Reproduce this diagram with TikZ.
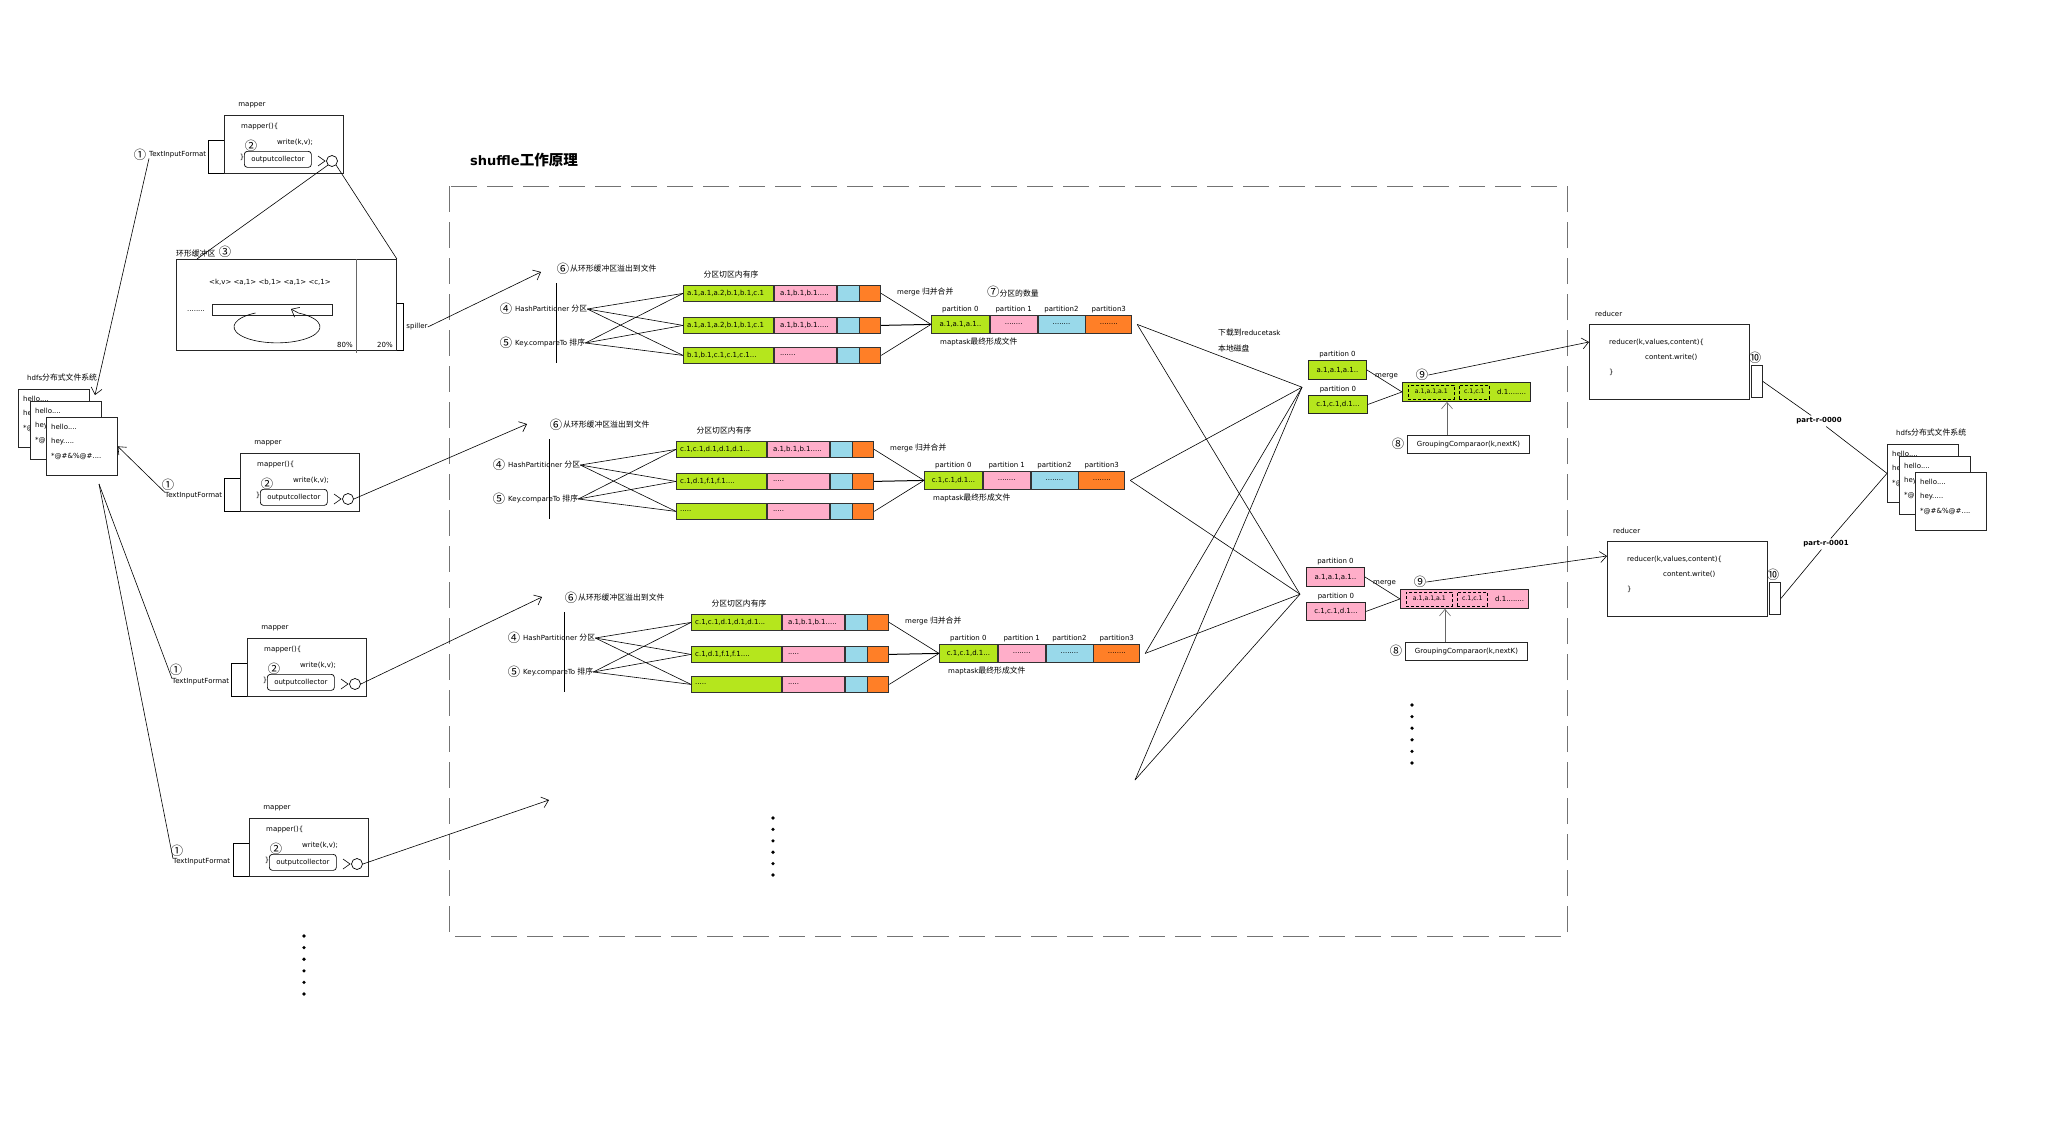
\documentclass[tikz,border=0pt]{standalone}
\usepackage{fontspec}
\setmainfont{DejaVu Sans}
\newfontfamily\cjk[Scale=1.12]{Noto Sans CJK SC}
\usetikzlibrary{
    arrows.meta, % For arrow tips
    calc,        % For coordinate calculations
    positioning  % For label positioning
}
\definecolor{sgreen}{RGB}{181,230,29}
\definecolor{spink}{RGB}{255,174,201}
\definecolor{sblue}{RGB}{153,217,234}
\definecolor{sorange}{RGB}{255,127,39}

\begin{document}
\begin{tikzpicture}[
    x=1pt, y=-1pt, % pixel grid, y runs downwards
    >={Straight Barb[length=6.5pt,width=11pt]}, % open arrow tips
    lbl/.style={font=\fontsize{7}{8}\selectfont, inner sep=0pt},
    num/.style={font=\cjk\fontsize{11}{12}\selectfont, inner sep=0pt},
    box/.style={draw=black!85, line width=0.9pt, inner sep=0pt, anchor=north west, font=\fontsize{7}{8}\selectfont},
    seg/.style={draw=black!80, line width=0.8pt, inner sep=0pt, anchor=north west, minimum height=16pt, font=\fontsize{7}{8}\selectfont},
    grp/.style={draw, dash pattern=on 3pt off 2pt, line width=0.7pt, inner sep=0pt, anchor=north west, minimum height=14pt, font=\fontsize{6.2}{7}\selectfont},
    wire/.style={line width=0.6pt}
    ]

    \fill[white] (0,0) rectangle (2048,1141);
    \useasboundingbox (0,0) rectangle (2048,1141);

    % #1=name, #2=top left corner of the mapper box
    \def\mapperblk#1#2{%
      \begin{scope}[shift={#2}]
        \node[lbl] at (28,-10) {mapper};
        \node[box, minimum width=119pt, minimum height=58pt] (#1) at (0,0) {};
        \node[lbl, anchor=west] at (17,12) {mapper()\{};
        \node[lbl, anchor=west] at (53,27) {write(k,v);};
        \node[num] at (27,31) {②};
        \node[lbl] at (18,42) {\}};
        \node[lbl, draw, line width=0.7pt, rounded corners=3pt, minimum width=67pt, minimum height=16pt, anchor=north west] (#1oc) at (20,36) {outputcollector};
        \draw[wire] (94,41) -- (101,46) -- (94,51);
        \node[draw, circle, line width=0.7pt, minimum size=11pt, inner sep=0pt] (#1c) at (108,46) {};
        \draw[wire] (0,25) -- (-16,25) -- (-16,58) -- (0,58);
      \end{scope}}

    % #1=name, #2=top left corner of the first file
    \def\hdfsstack#1#2{%
      \begin{scope}[shift={#2}]
        \node[lbl, anchor=west] at (9,-12) {hdfs{\cjk 分布式文件系统}};
        \foreach \dx/\dy [count=\k] in {0/0,12/12,28/28} {
          \node[box, fill=white, line width=0.7pt, minimum width=71pt, minimum height=58pt] (#1\k) at (\dx,\dy) {};
          \begin{scope}
            \clip (\dx,\dy) rectangle ++(71,58);
            \node[lbl, anchor=west] at (\dx+5,\dy+10) {hello....};
            \node[lbl, anchor=west] at (\dx+5,\dy+25) {hey.....};
            \node[lbl, anchor=west] at (\dx+5,\dy+40) {*@\#\&\%@\#....};
          \end{scope}
        }
      \end{scope}}

    % one spill file: #1=name, #2=y offset, #3/#4=texts
    \def\spillrow#1#2#3#4{%
      \node[seg, fill=sgreen, minimum width=90pt] (#1g) at (0,#2) {};
      \node[seg, fill=spink, minimum width=62pt] (#1p) at (#1g.north east) {};
      \node[seg, fill=sblue, minimum width=22pt] (#1b) at (#1p.north east) {};
      \node[seg, fill=sorange, minimum width=21pt] (#1o) at (#1b.north east) {};
      \node[lbl, anchor=west] at ([xshift=4pt]#1g.west) {#3};
      \node[lbl, anchor=west] at ([xshift=6pt]#1p.west) {#4};}

    % #1=name, #2=top left of first spill file, #3-#8 spill texts, #9 merged text
    \def\spillsec#1#2#3#4#5#6#7#8#9{%
      \begin{scope}[shift={#2}]
        \node[num] at (-120,-16) {⑥};
        \node[lbl, anchor=west] at (-113,-16) {\cjk 从环形缓冲区溢出到文件};
        \draw[wire] (-127,-2) -- (-127,78);
        \node[num] at (-177,24) {④};
        \node[lbl, anchor=west] (#1h) at (-168,24) {HashPartitioner {\cjk 分区}};
        \node[num] at (-177,58) {⑤};
        \node[lbl, anchor=west] (#1k) at (-168,58) {Key.compareTo {\cjk 排序}};
        \node[lbl] at (48,-10) {\cjk 分区切区内有序};
        % spill files
        \spillrow{#1r1}{0}{#3}{#4}
        \spillrow{#1r2}{32}{#5}{#6}
        \spillrow{#1r3}{62}{#7}{#8}
        \foreach \i in {1,2,3} {
          \draw[wire] (#1h.east) -- (#1r\i g.west);
          \draw[wire] (#1k.east) -- (#1r\i g.west);
        }
        % merged maptask file
        \node[seg, fill=sgreen, minimum width=58pt, minimum height=18pt] (#1mg) at (248,30) {#9};
        \node[seg, fill=spink, minimum width=47pt, minimum height=18pt] (#1mp) at (#1mg.north east) {........};
        \node[seg, fill=sblue, minimum width=47pt, minimum height=18pt] (#1mb) at (#1mp.north east) {........};
        \node[seg, fill=sorange, minimum width=46pt, minimum height=18pt] (#1mo) at (#1mb.north east) {........};
        \node[lbl, above=2pt of #1mg] {partition 0};
        \node[lbl, above=2pt of #1mp] {partition 1};
        \node[lbl, above=2pt of #1mb] {partition2};
        \node[lbl, above=2pt of #1mo] {partition3};
        \node[lbl, anchor=west] at (214,7) {merge {\cjk 归并合并}};
        \node[lbl, anchor=west] at (257,57) {maptask{\cjk 最终形成文件}};
        \draw[wire] (#1r1o.east) -- (#1mg.west);
        \draw[line width=1pt] (#1r2o.east) -- (#1mg.west);
        \draw[wire] (#1r3o.east) -- (#1mg.west);
      \end{scope}}

    % #1=name, #2=top left of first partition box, #3=colour
    \def\reducegrp#1#2#3{%
      \begin{scope}[shift={#2}]
        \node[box, fill=#3, minimum width=58pt, minimum height=19pt] (#1a) at (0,0) {a.1,a.1,a.1..};
        \node[lbl, above=2pt of #1a] {partition 0};
        \node[box, fill=#3, minimum width=59pt, minimum height=18pt] (#1b) at (0,35) {c.1,c.1,d.1...};
        \node[lbl, above=2pt of #1b] {partition 0};
        \node[lbl, anchor=west] at (67,16) {merge};
        \node[box, fill=#3, minimum width=128pt, minimum height=19pt] (#1m) at (94,22) {};
        \node[grp, minimum width=46pt] (#1m1) at (100,24.5) {a.1,a.1,a.1};
        \node[grp, minimum width=30pt] (#1m2) at (151,24.5) {c.1,c.1};
        \node[lbl, anchor=west] at (189,32) {d.1........};
        \node[num] (#1n) at (114,15) {⑨};
        \node[box, minimum width=122pt, minimum height=18pt] (#1g) at (99,75) {GroupingComparaor(k,nextK)};
        \node[num] at (90,84) {⑧};
        \draw[wire] (#1a.east) -- (#1m.west);
        \draw[wire] (#1b.east) -- (#1m.west);
        \draw[wire, black!60, ->] ($(#1g.north west)+(40,0)$) -- ($(#1m.south west)+(45,0)$);
      \end{scope}}

    % #1=name, #2=top left of the reducer box
    \def\reducerblk#1#2{%
      \begin{scope}[shift={#2}]
        \node[lbl, anchor=west] at (6,-10) {reducer};
        \node[box, minimum width=160pt, minimum height=75pt] (#1) at (0,0) {};
        \node[lbl, anchor=west] at (20,18) {reducer(k,values,content)\{};
        \node[lbl, anchor=west] at (56,33) {content.write()};
        \node[lbl, anchor=west] at (20,48) {\}};
        \node[box, minimum width=11pt, minimum height=32pt] (#1o) at (162,41) {};
        \node[num] at (166,34) {⑩};
      \end{scope}}

    % Title and shuffle frame
    \node[anchor=west, inner sep=0pt, font=\fontsize{13}{15}\selectfont\bfseries] at (470,160) {shuffle{\cjk 工作原理}};
    \draw[black!55, line width=1pt, dash pattern=on 26pt off 10pt] (449,186) rectangle (1567,936);

    % Input files
    \hdfsstack{hl}{(18,389)}
    \coordinate (hdfsLt) at (95,395);
    \coordinate (hdfsLb) at (99,484);

    % Mappers
    \mapperblk{m1}{(224,115)}
    \mapperblk{m2}{(240,453)}
    \mapperblk{m3}{(247,638)}
    \mapperblk{m4}{(249,818)}

    \node[num] at (140,155) {①};
    \node[lbl, anchor=west] (tif1) at (149,155) {TextInputFormat};
    \node[num] at (168,485) {①};
    \node[lbl, anchor=west] (tif2) at (165,496) {TextInputFormat};
    \node[num] at (176,670) {①};
    \node[lbl, anchor=west] (tif3) at (172,682) {TextInputFormat};
    \node[num] at (177,851) {①};
    \node[lbl, anchor=west] (tif4) at (173,862) {TextInputFormat};

    \draw[wire, ->] (tif1.south west) -- (hdfsLt);
    \draw[wire, ->] (tif2.north west) -- (hl3.east);
    \draw[wire] (hdfsLb) -- (tif3.north west);
    \draw[wire] (hdfsLb) -- (tif4.north west);

    % Ring buffer
    \node[lbl, anchor=west] at (176,252) {\cjk 环形缓冲区\ \ {\fontsize{11}{12}\selectfont ③}};
    \node[box, minimum width=220pt, minimum height=91pt] (ring) at (176,259) {};
    \draw[wire, black!60] ($(ring.north west)+(180,0)$) -- ++(0,94);
    \node[lbl] at (270,282) {<k,v> <a,1> <b,1> <a,1> <c,1>};
    \node[box, line width=0.6pt, minimum width=120pt, minimum height=11pt] (ringbuf) at (212,304) {};
    \node[lbl] at (196,311) {........};
    \draw[wire, ->] (255.5,313) arc[start angle=240, end angle=-60, x radius=43, y radius=16] -- (291,309);
    \node[lbl] at (345,345) {80\%};
    \node[lbl] at (385,345) {20\%};
    \draw[wire] ($(ring.north east)+(0,44)$) -- ++(6,0) -- ++(0,47) -- ++(-6,0);
    \node[lbl] (spiller) at (417,327) {spiller};
    \draw[wire] (m1c.south west) -- ($(ring.north west)+(21,0)$);
    \draw[wire] (m1c.south east) -- (ring.north east);

    % Spill and merge on the map side
    \spillsec{s1}{(683,285)}{a.1,a.1,a.2,b.1,b.1,c.1}{a.1,b.1,b.1.....}{a.1,a.1,a.2,b.1,b.1,c.1}{a.1,b.1,b.1.....}{b.1,b.1,c.1,c.1,c.1...}{.......}{a.1,a.1,a.1..}
    \spillsec{s2}{(676,441)}{c.1,c.1,d.1,d.1,d.1...}{a.1,b.1,b.1.....}{c.1,d.1,f.1,f.1....}{.....}{.....}{.....}{c.1,c.1,d.1...}
    \spillsec{s3}{(691,614)}{c.1,c.1,d.1,d.1,d.1...}{a.1,b.1,b.1.....}{c.1,d.1,f.1,f.1....}{.....}{.....}{.....}{c.1,c.1,d.1...}
    \node[lbl, anchor=west] at (987,292) {\cjk {\fontsize{11}{12}\selectfont ⑦}分区的数量};

    \coordinate (s1in) at (541,272);
    \coordinate (s2in) at (527,424);
    \coordinate (s3in) at (542,597);
    \coordinate (s4in) at (549,800);
    \draw[wire, ->] (spiller.east) -- (s1in);
    \draw[wire, ->] (m2c.east) -- (s2in);
    \draw[wire, ->] (m3c.east) -- (s3in);
    \draw[wire, ->] (m4c.east) -- (s4in);

    % Reduce side
    \reducegrp{r1}{(1308,360)}{sgreen}
    \reducegrp{r2}{(1306,567)}{spink}
    \node[lbl, anchor=west] at (1218,333) {{\cjk 下载到}reducetask};
    \node[lbl, anchor=west] at (1218,348) {\cjk 本地磁盘};

    \coordinate (dl1) at ($(r1a.west)!0.5!(r1b.west)+(-6,0)$);
    \coordinate (dl2) at ($(r2a.west)!0.5!(r2b.west)+(-6,0)$);
    \coordinate (mt1) at ([xshift=5pt]s1mo.east);
    \coordinate (mt2) at ([xshift=5pt]s2mo.east);
    \coordinate (mt3) at ([xshift=5pt]s3mo.east);
    \coordinate (mt4) at (1135,780);
    \foreach \p in {mt1,mt2,mt3,mt4} {
      \draw[wire] (\p) -- (dl1);
      \draw[wire] (\p) -- (dl2);
    }

    \reducerblk{rd1}{(1589,324)}
    \reducerblk{rd2}{(1607,541)}
    \draw[wire, ->] (r1n.east) -- ($(rd1.north west)+(0,18)$);
    \draw[wire, ->] (r2n.east) -- ($(rd2.north west)+(0,15)$);

    % Output files
    \hdfsstack{hr}{(1887,444)}
    \node[lbl, inner sep=2pt, font=\fontsize{7}{8}\selectfont\bfseries] (p0) at (1819,421) {part-r-0000};
    \node[lbl, inner sep=2pt, font=\fontsize{7}{8}\selectfont\bfseries] (p1) at (1826,544) {part-r-0001};
    \draw[wire] (rd1o.east) -- (p0);
    \draw[wire] (p0) -- (hr1.west);
    \draw[wire] (rd2o.east) -- (p1);
    \draw[wire] (p1) -- (hr1.west);

    % More mappers / maptasks / reducers
    \foreach \k in {0,...,5} {
      \fill (304,936+11.6*\k) circle[radius=1.8pt];
      \fill (773,818+11.4*\k) circle[radius=1.8pt];
      \fill (1412,705+11.6*\k) circle[radius=1.8pt];
    }

\end{tikzpicture}
\end{document}
